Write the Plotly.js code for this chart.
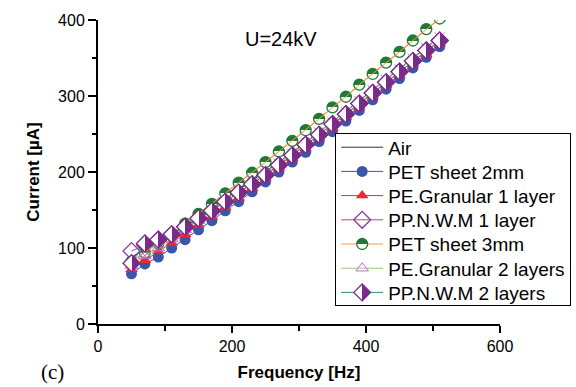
<!DOCTYPE html>
<html><head><meta charset="utf-8">
<script src="https://cdn.plot.ly/plotly-3.0.1.min.js"></script>
<style>html,body{margin:0;padding:0;background:#fff}#c{width:576px;height:387px}</style>
</head><body><div id="c"></div>
<script>
const freq = [50,70,90,110,130,150,170,190,210,230,250,270,290,310,330,350,370,390,410,430,450,470,490,510];
const air      = [88,98,108,118,129,140,152,164,176,188,200,213,226,239,253,266,280,294,308,322,336,350,364,378];
const pet2mm   = [66,79,88,100,111,124,136,149,161,174,187,200,213,226,240,253,267,281,295,309,323,337,351,365];
const peGran1  = [72,84,96,107,118,130,141,154,166,179,192,205,218,231,245,258,272,286,300,314,328,342,355,369];
const ppNwm1   = [96,104,111,118,128,139,149,161,173,184,196,209,222,236,249,263,276,290,304,318,332,346,360,373];
const pet3mm   = [82,94,106,119,132,145,158,172,186,199,213,227,241,255,270,285,299,315,329,344,358,373,388,402];
const peGran2  = [77,90,100,112,124,136,148,160,172,185,198,211,224,238,252,265,279,293,307,321,335,349,363,377];
const ppNwm2   = [80,106,111,118,128,139,149,161,173,184,196,209,222,236,249,263,276,290,304,318,332,346,360,373];
const names = ["Air","PET sheet 2mm","PE.Granular 1 layer","PP.N.W.M 1 layer","PET sheet 3mm","PE.Granular 2 layers","PP.N.W.M 2 layers"];

const traces = [
  {x:freq,y:air,name:names[0],mode:"lines",line:{color:"#333333",width:1}},
  {x:freq,y:pet2mm,name:names[1],mode:"lines+markers",line:{color:"#3b55a8",width:1},
   marker:{symbol:"circle",size:11,color:"#3b55a8"}},
  {x:freq,y:peGran1,name:names[2],mode:"lines+markers",line:{color:"#ee2a2a",width:1},
   marker:{symbol:"triangle-up",size:11,color:"#ee2a2a"}},
  {x:freq,y:ppNwm1,name:names[3],mode:"lines+markers",line:{color:"#9b4fa8",width:1},
   marker:{symbol:"diamond-open",size:13,color:"#8a3a9a",line:{width:1.3}}},
  {x:freq,y:pet3mm,name:names[4],mode:"lines+markers",line:{color:"#f39a4a",width:1.2},
   marker:{symbol:"circle",size:11,color:"#1f7a35",gradient:{type:"vertical",color:"#ffffff"},line:{color:"#1f7a35",width:1.3}}},
  {x:freq,y:pet3mm,name:names[4],mode:"lines",showlegend:false,hoverinfo:"skip",line:{color:"#f39a4a",width:1}},
  {x:freq,y:peGran2,name:names[5],mode:"lines+markers",line:{color:"#8fd070",width:1},
   marker:{symbol:"triangle-up-open",size:11,color:"#cc66cc",line:{width:1}}},
  {x:freq,y:peGran2,name:names[5],mode:"markers",showlegend:false,hoverinfo:"skip",
   marker:{symbol:"x-thin-open",size:10,color:"#cc66cc",line:{width:1,color:"#cc66cc"}}},
  {x:freq,y:ppNwm2,name:names[6],mode:"lines+markers",line:{color:"#2a8a88",width:1},
   marker:{symbol:"diamond",size:13,color:"#7a2a88",gradient:{type:"horizontal",color:"#ffffff"},line:{color:"#7a2a88",width:1.3}}}
];

const layout = {
  width:576,height:387,
  margin:{l:98,r:76,t:20,b:63,autoexpand:false},
  paper_bgcolor:"#fff",plot_bgcolor:"#fff",
  font:{family:"Arial, 'Liberation Sans', sans-serif",color:"#000",size:16},
  showlegend:true,
  legend:{x:0.59,y:0.628,xanchor:"left",yanchor:"top",bgcolor:"#fff",bordercolor:"#000",borderwidth:1,
    font:{size:19,color:"#000"},tracegroupgap:0,itemwidth:42},
  xaxis:{range:[0,600],tickvals:[0,200,400,600],ticks:"outside",ticklen:7,tickwidth:1.5,tickcolor:"#000",
    showline:true,linecolor:"#000",linewidth:2,showgrid:false,zeroline:false,
    minor:{tickvals:[100,300,500],ticks:"outside",ticklen:5,tickwidth:1.5,tickcolor:"#000",showgrid:false},
    tickfont:{size:16},
    title:{text:"<b>Frequency [Hz]</b>",font:{size:17},standoff:12}},
  yaxis:{range:[0,400],tickvals:[0,100,200,300,400],ticks:"outside",ticklen:8,tickwidth:1.5,tickcolor:"#000",
    showline:true,linecolor:"#000",linewidth:2,showgrid:false,zeroline:false,
    minor:{tickvals:[50,150,250,350],ticks:"outside",ticklen:4,tickwidth:1.5,tickcolor:"#000",showgrid:false},
    tickfont:{size:16},
    title:{text:"<b>Current [µA]</b>",font:{size:17},standoff:14}},
  annotations:[
    {x:273,y:375,xref:"x",yref:"y",text:"U=24kV",showarrow:false,font:{size:20}},
    {x:(52-98)/402,y:(324-372)/304,xref:"paper",yref:"paper",xanchor:"center",yanchor:"middle",
     text:"(c)",showarrow:false,font:{size:21,family:"'Liberation Serif', 'Times New Roman', serif"}}
  ]
};
const LEGEND_ROW = 24.2, LEGEND_H = 172;
function isWhite(c){ c=(c||"").replace(/\s/g,"").toLowerCase(); return c==="#ffffff"||c==="#fff"||c==="rgb(255,255,255)"||c==="white"||c==="rgba(255,255,255,1)"; }
Plotly.newPlot("c",traces,layout,{staticPlot:true,displayModeBar:false}).then(function(gd){
  // hard two-colour split for half-filled symbols:
  // vertical -> top half coloured, horizontal -> right half coloured
  gd.querySelectorAll("linearGradient").forEach(function(g){
    const stops = g.querySelectorAll("stop");
    if(stops.length < 2) return;
    const c0 = stops[0].getAttribute("stop-color"), c1 = stops[1].getAttribute("stop-color");
    const col = isWhite(c0) ? c1 : c0;
    const vertical = g.getAttribute("x1") === g.getAttribute("x2");
    if(vertical){
      g.setAttribute("x1","0"); g.setAttribute("x2","0"); g.setAttribute("y1","0"); g.setAttribute("y2","1");
      stops[0].setAttribute("stop-color",col); stops[1].setAttribute("stop-color","#ffffff");
    } else {
      g.setAttribute("x1","0"); g.setAttribute("x2","1"); g.setAttribute("y1","0"); g.setAttribute("y2","0");
      stops[0].setAttribute("stop-color","#ffffff"); stops[1].setAttribute("stop-color",col);
    }
    stops[0].setAttribute("stop-opacity","1"); stops[1].setAttribute("stop-opacity","1");
    stops[0].setAttribute("offset","50%"); stops[1].setAttribute("offset","50%");
  });
  // tighten legend row spacing
  const leg = gd.querySelector(".legend");
  if(!leg) return;
  const items = Array.from(leg.querySelectorAll(".traces"));
  if(items.length < 2) return;
  const pos = items.map(function(it){
    const m = /translate\(\s*([-\d.]+)[ ,]+([-\d.]+)\s*\)/.exec(it.getAttribute("transform")||"");
    return m ? [parseFloat(m[1]), parseFloat(m[2])] : [0,0];
  });
  const d = pos[1][1]-pos[0][1];
  const shift0 = (d - LEGEND_ROW)/2 + 4;
  items.forEach(function(it,i){
    it.setAttribute("transform","translate("+pos[i][0]+","+(pos[0][1]-shift0+i*LEGEND_ROW)+")");
  });
  const bg = leg.querySelector("rect.bg");
  if(bg){ bg.setAttribute("height", LEGEND_H); }
});
</script></body></html>
